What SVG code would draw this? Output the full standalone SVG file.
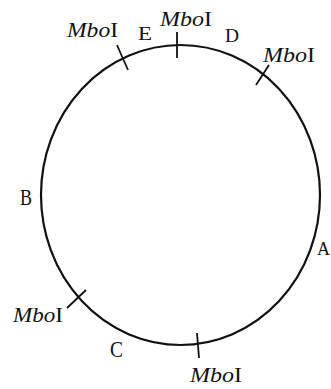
<svg xmlns="http://www.w3.org/2000/svg" width="331" height="389" viewBox="0 0 331 389">
<style>
.bg{fill:#ffffff}
.ring{fill:none;stroke:#111;stroke-width:2.2}
.tick{stroke:#111;stroke-width:1.8;fill:none}
.site{font-family:'Liberation Serif','Times New Roman',Times,serif;font-size:22px;fill:#111}
.it{font-style:italic}
.seg{font-family:'Liberation Serif','Times New Roman',Times,serif;font-size:18px;fill:#111}
.segl{font-family:'Liberation Serif','Times New Roman',Times,serif;font-size:23px;fill:#111}
</style>
<rect class="bg" x="0" y="0" width="331" height="389"/>
<g id="plasmid">
<ellipse class="ring" cx="180.5" cy="195" rx="139.5" ry="150"/>
</g>
<g id="connectors">
<line class="tick" x1="117" y1="45" x2="128" y2="70"/>
<line class="tick" x1="177" y1="32" x2="177" y2="58"/>
<line class="tick" x1="269" y1="65" x2="256" y2="85"/>
<line class="tick" x1="86" y1="290" x2="67" y2="308"/>
<line class="tick" x1="197" y1="333" x2="199" y2="358"/>
</g>
<g id="site-ul"><text class="site" x="67" y="37" textLength="51" lengthAdjust="spacingAndGlyphs"><tspan class="it">Mbo</tspan>I</text></g>
<g id="site-top"><text class="site" x="160" y="26" textLength="52" lengthAdjust="spacingAndGlyphs"><tspan class="it">Mbo</tspan>I</text></g>
<g id="site-right"><text class="site" x="263" y="62" textLength="52" lengthAdjust="spacingAndGlyphs"><tspan class="it">Mbo</tspan>I</text></g>
<g id="site-ll"><text class="site" x="13" y="322" textLength="50" lengthAdjust="spacingAndGlyphs"><tspan class="it">Mbo</tspan>I</text></g>
<g id="site-bottom"><text class="site" x="190" y="382" textLength="52" lengthAdjust="spacingAndGlyphs"><tspan class="it">Mbo</tspan>I</text></g>
<g id="seg-E"><text class="seg" x="138" y="40" textLength="14" lengthAdjust="spacingAndGlyphs">E</text></g>
<g id="seg-D"><text class="seg" x="225" y="42" textLength="14" lengthAdjust="spacingAndGlyphs">D</text></g>
<g id="seg-B"><text class="segl" x="20" y="205" textLength="12" lengthAdjust="spacingAndGlyphs">B</text></g>
<g id="seg-A"><text class="seg" x="317" y="255" textLength="13" lengthAdjust="spacingAndGlyphs">A</text></g>
<g id="seg-C"><text class="segl" x="110" y="357" textLength="13" lengthAdjust="spacingAndGlyphs">C</text></g>
</svg>
